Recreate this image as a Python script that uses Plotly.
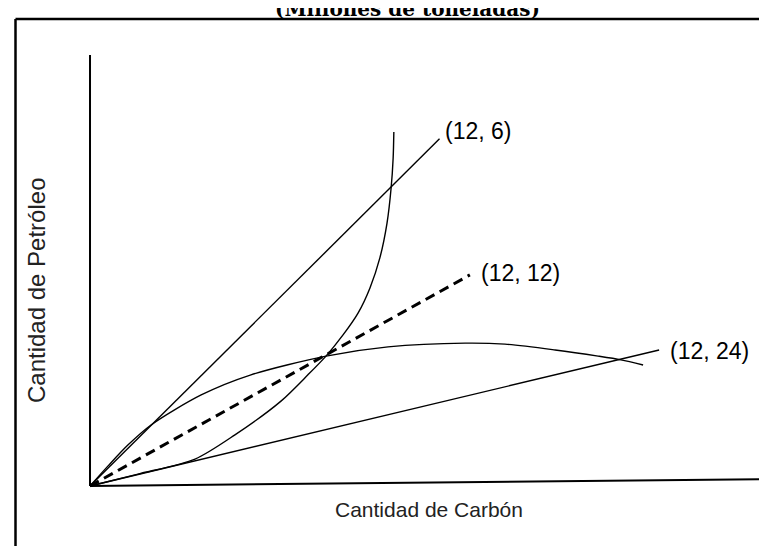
import plotly.graph_objects as go

# --- data (arbitrary quantity units, origin at 0,0) ---
axis_x_end = [0.0, 20.0]
axis_x_end_y = [0.0, 0.205]
axis_y_top = 12.64

ray_labels = ["(12, 6)", "(12, 12)", "(12, 24)"]
ray_end_x = [10.25, 11.14, 16.69]
ray_end_y = [10.18, 6.19, 3.99]
ray_dash = ["solid", "dash", "solid"]
label_x = [10.35, 11.41, 16.95]
label_y = [10.41, 6.25, 3.96]

convex_x = [0, 1.41, 3.08, 4.25, 5.60, 6.39, 6.92, 7.42, 7.86, 8.21, 8.50, 8.71, 8.83, 8.89, 8.91]
convex_y = [0, 0.35, 0.79, 1.50, 2.49, 3.26, 3.81, 4.43, 5.07, 5.81, 6.69, 7.71, 8.74, 9.62, 10.38]

concave_x = [0, 0.53, 1.11, 1.79, 3.26, 4.72, 6.92, 8.74, 11.00, 12.17, 13.64, 14.90, 15.57, 16.22]
concave_y = [0, 0.59, 1.20, 1.79, 2.67, 3.26, 3.81, 4.08, 4.19, 4.16, 3.99, 3.81, 3.70, 3.55]

title_text = "(Millones de toneladas)"
x_title = "Cantidad de Carbón"
y_title = "Cantidad de Petróleo"

W, H = 767, 546
X_RANGE = [-2.405, 20.088]
Y_RANGE = [-1.994, 14.018]
SANS = "Liberation Sans, Arial"

fig = go.Figure()

# axes
fig.add_trace(go.Scatter(x=axis_x_end, y=axis_x_end_y, mode="lines",
                         line=dict(color="black", width=2), hoverinfo="skip"))
fig.add_trace(go.Scatter(x=[0, 0], y=[0, axis_y_top], mode="lines",
                         line=dict(color="black", width=2), hoverinfo="skip"))

# rays
for ex, ey, d in zip(ray_end_x, ray_end_y, ray_dash):
    if d == "dash":
        line = dict(color="black", width=3, dash="10px,6px")
    else:
        line = dict(color="black", width=1.4)
    fig.add_trace(go.Scatter(x=[0, ex], y=[0, ey], mode="lines", line=line, hoverinfo="skip"))

# curves
fig.add_trace(go.Scatter(x=convex_x, y=convex_y, mode="lines",
                         line=dict(color="black", width=1.4, shape="spline", smoothing=0.8),
                         hoverinfo="skip"))
fig.add_trace(go.Scatter(x=concave_x, y=concave_y, mode="lines",
                         line=dict(color="black", width=1.4, shape="spline", smoothing=0.8),
                         hoverinfo="skip"))

annotations = []
for t, lx, ly in zip(ray_labels, label_x, label_y):
    annotations.append(dict(x=lx, y=ly, text=t, showarrow=False, xanchor="left", yanchor="middle",
                            font=dict(family=SANS, size=23, color="black")))

annotations.append(dict(x=399 / W, y=1 - 1 / H, xref="paper", yref="paper",
                        text="<b>" + title_text + "</b>",
                        showarrow=False, xanchor="center", yanchor="middle",
                        font=dict(family="DejaVu Serif", size=20, color="black")))
annotations.append(dict(x=421 / W, y=1 - 501 / H, xref="paper", yref="paper", text=x_title,
                        showarrow=False, xanchor="center", yanchor="middle",
                        font=dict(family=SANS, size=21, color="#222")))
annotations.append(dict(x=28 / W, y=1 - 282 / H, xref="paper", yref="paper", text=y_title,
                        showarrow=False, xanchor="center", yanchor="middle", textangle=-90,
                        font=dict(family=SANS, size=24, color="#222")))

shapes = [
    dict(type="line", xref="paper", yref="paper", x0=7.5 / W, x1=1.01, y0=1 - 11 / H, y1=1 - 11 / H,
         line=dict(color="black", width=2.5)),
    dict(type="line", xref="paper", yref="paper", x0=7.5 / W, x1=7.5 / W, y0=1 - 11 / H, y1=-0.02,
         line=dict(color="black", width=2.5)),
]

fig.update_layout(
    width=W, height=H, autosize=False,
    margin=dict(l=0, r=0, t=0, b=0),
    paper_bgcolor="white", plot_bgcolor="white",
    showlegend=False,
    xaxis=dict(range=X_RANGE, visible=False, fixedrange=True),
    yaxis=dict(range=Y_RANGE, visible=False, fixedrange=True),
    annotations=annotations,
    shapes=shapes,
)

fig.write_html("out.html")
